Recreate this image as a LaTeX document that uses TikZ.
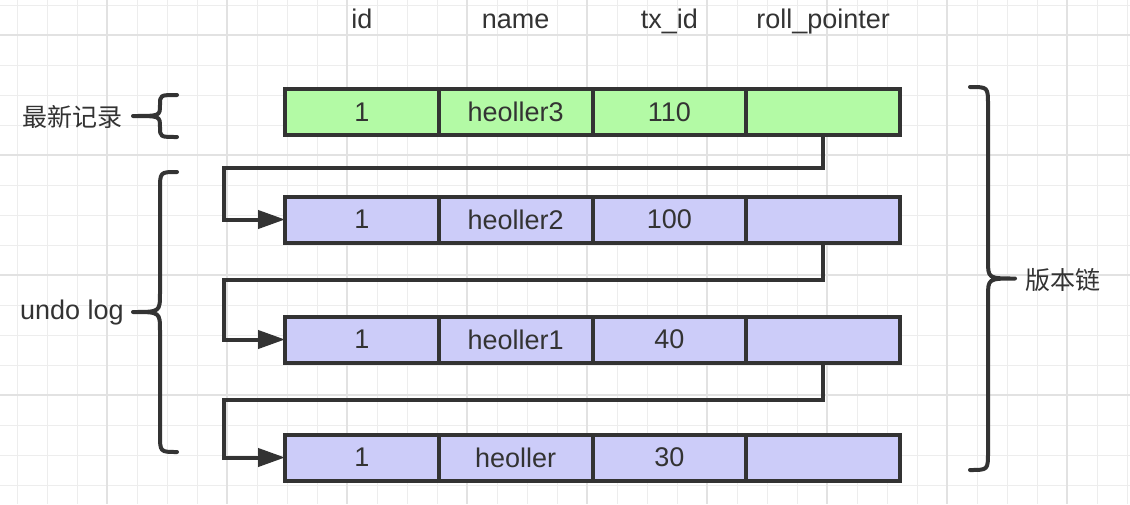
\documentclass[tikz,border=0pt]{standalone}
\usepackage{fontspec}
\setmainfont{Liberation Sans}
\newfontfamily\cjk{Noto Sans CJK SC}
\usepackage{tikz}
\usepackage{xcolor}
\usetikzlibrary{positioning, arrows.meta}

\definecolor{ink}{HTML}{333333}
\definecolor{newrow}{HTML}{B3FAA5}
\definecolor{oldrow}{HTML}{CCCCF9}
\definecolor{gridminor}{HTML}{EDEDED}
\definecolor{gridmajor}{HTML}{E2E2E2}

\tikzset{
    cell/.style={draw=ink, line width=4pt, minimum width=153.75pt, minimum height=46pt,
        inner sep=0pt, outer sep=0pt, text=ink, font=\fontsize{27}{30}\selectfont},
    newcell/.style={cell, fill=newrow},
    oldcell/.style={cell, fill=oldrow},
    head/.style={anchor=base, text=ink, font=\fontsize{27}{30}\selectfont},
    sidelabel/.style={text=ink, font=\fontsize{27}{30}\selectfont},
    cjklabel/.style={text=ink, font=\cjk\fontsize{25}{30}\selectfont},
    link/.style={draw=ink, line width=4pt, -{Triangle[length=27pt, width=18pt]}},
    bracket/.style={draw=ink, line width=4pt, line cap=round, line join=round},
}

\begin{document}
\begin{tikzpicture}[x=1pt, y=-1pt]
                \useasboundingbox[fill=white] (0,0) rectangle (1130,504);
                % background grid
                \foreach \gx in {17,47,...,1127} \draw[gridminor, line width=1pt] (\gx,0) -- (\gx,504);
                \foreach \gy in {5,35,...,485} \draw[gridminor, line width=1pt] (0,\gy) -- (1130,\gy);
                \foreach \gx in {107,227,...,1067} \draw[gridmajor, line width=2pt] (\gx,0) -- (\gx,504);
                \foreach \gy in {35,155,275,395} \draw[gridmajor, line width=2pt] (0,\gy) -- (1130,\gy);

                \node[head] (hid) at (362, 28) {id};
                \node[head] (hname) at (515.6, 28) {name};
                \node[head] (htx) at (669.4, 28) {tx\_id};
                \node[head] (hptr) at (823.1, 28) {roll\_pointer};

                \node[newcell] (r0id) at (361.9, 112) {1};
                \node[newcell, right=0pt of r0id] (r0name) {heoller3};
                \node[newcell, right=0pt of r0name] (r0tx) {110};
                \node[newcell, right=0pt of r0tx] (r0ptr) {};

                \node[oldcell] (r1id) at (361.9, 219.5) {1};
                \node[oldcell, right=0pt of r1id] (r1name) {heoller2};
                \node[oldcell, right=0pt of r1name] (r1tx) {100};
                \node[oldcell, right=0pt of r1tx] (r1ptr) {};

                \node[oldcell] (r2id) at (361.9, 339.5) {1};
                \node[oldcell, right=0pt of r2id] (r2name) {heoller1};
                \node[oldcell, right=0pt of r2name] (r2tx) {40};
                \node[oldcell, right=0pt of r2tx] (r2ptr) {};

                \node[oldcell] (r3id) at (361.9, 457.5) {1};
                \node[oldcell, right=0pt of r3id] (r3name) {heoller};
                \node[oldcell, right=0pt of r3name] (r3tx) {30};
                \node[oldcell, right=0pt of r3tx] (r3ptr) {};

                \draw[link] (r0ptr.south) -- ++(0,33) -| ([xshift=-61pt]r1id.west) -- (r1id.west);
                \draw[link] (r1ptr.south) -- ++(0,37) -| ([xshift=-61pt]r2id.west) -- (r2id.west);
                \draw[link] (r2ptr.south) -- ++(0,37) -| ([xshift=-61pt]r3id.west) -- (r3id.west);

                % braces
                \draw[bracket] (177,95) .. controls (160,95) .. (160,105) .. controls (160,116) .. (133,116)
                    .. controls (160,116) .. (160,127) .. controls (160,137) .. (177,137);
                \draw[bracket] (177,172) .. controls (160,172) .. (160,190) -- (160,293)
                    .. controls (160,312) .. (133,312) .. controls (160,312) .. (160,331)
                    -- (160,434) .. controls (160,452) .. (177,452);
                \draw[bracket] (970,87) .. controls (988,87) .. (988,105) -- (988,260)
                    .. controls (988,278.5) .. (1015,278.5) .. controls (988,278.5) .. (988,297)
                    -- (988,452) .. controls (988,470) .. (970,470);

                \node[cjklabel] (latest) at (72, 117) {最新记录};
                \node[sidelabel] (undo) at (72, 313) {undo log};
                \node[cjklabel] (chain) at (1063, 280) {版本链};
            \end{tikzpicture}
\end{document}
